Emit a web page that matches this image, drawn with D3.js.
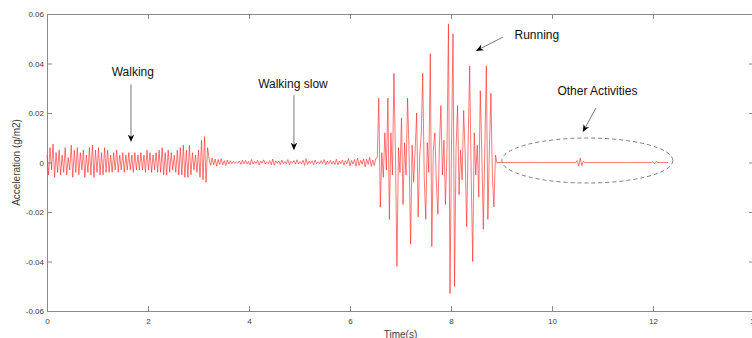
<!DOCTYPE html>
<html>
<head>
<meta charset="utf-8">
<script src="https://cdn.jsdelivr.net/npm/d3@7/dist/d3.min.js"></script>
<style>
  html, body { margin: 0; padding: 0; background: #fff; overflow: hidden; }
  svg { display: block; }
  text { font-family: "Liberation Sans", Arial, Helvetica, sans-serif; }
</style>
</head>
<body>
<svg id="chart" width="752" height="338"></svg>
<script>
// Accelerometer trace, values in 10^-3 g/m2, one sample every SAMPLE_DT seconds.
const SAMPLE_DT = 0.03;

const walking = [
  3, -5, 6, -3, 7.5, -6, 4, -4, 5, -5, 3, -4, 6, -5, 2, -3, 7, -6, 5, -4,
  6, -5, 4, -3, 5, -6, 3, -4, 6, -5, 7, -6, 5, -4, 6, -5, 4, -5, 6, -4,
  5, -4, 3, -4, 4, -3, 5, -4, 3, -3, 4, -4, 3, -3, 4, -3, 3, -4, 4, -3,
  3, -3, 4, -3, 3, -4, 5, -3, 4, -4, 3, -3, 4, -4, 5, -4, 6, -5, 4, -5,
  5, -4, 4, -3, 3, -4, 5, -5, 6, -5, 7, -6, 5, -6, 7, -5, 4, -3, 3, -4,
  5, -6, 9, -7, 10.5, -8, 6
];

const walkingSlow = [
  1.5, -1.2, 1.8, -1, 1.4, -1.5, 1.2, -0.8, 1.5, -1, 0.8, -1.2, 1, -0.6, 0.7, -0.5, 0.5, -0.4, 0.3, -0.3,
  0.6, -0.8, 1, -0.5, 0.8, -0.6, 0.4, -0.9, 1.2, -0.7, 0.5, -0.4, 0.9, -1, 0.6, -0.3, 1.1, -0.6, 0.3, -0.5,
  0.8, -0.9, 1.4, -1.1, 0.7, -0.4, 0.6, -0.8, 1, -0.5, 0.4, -0.6, 1.2, -0.9, 0.5, -0.3, 0.8, -0.7, 1.1, -0.6,
  0.4, -0.5, 0.9, -1.2, 1.5, -0.8, 0.6, -0.4, 0.7, -0.9, 1, -0.5, 0.3, -0.6, 0.8, -0.4, 1.2, -1, 0.6, -0.5,
  0.9, -0.7, 0.5, -0.8, 1.3, -0.9, 0.6, -0.4, 1, -1.1, 0.7, -0.5, 1.6, -1.4, 0.8, -0.6, 1.2, -1.5, 1.8, -1.2,
  0.9, -0.7, 1.5, -1.8, 1.3, -0.8, 2, -1.5, 1, -1.2, 1.6
];

const running = [
  2, 26, -18, 4, -6, 12, -3, 26, -23, 12,
  -5, 36, 3, -42, 6, -4, 18, -17, 8, -5,
  26, 4, -33, 7, -8, 5, 20, -22, 3, 11,
  36, -6, -23, 8, -4, 44, -34, 5, 12, -8,
  -21, 6, 23, -5, 9, -17, 4, 56, -53, 7,
  52, -50, 6, 23, -13, 5, -7, 21, 4, -26,
  8, 39, -6, -40, 12, -5, 7, -14, 29, 4,
  -27, 6, 39, -23, 5, 28, -6, -18, 3
];

const otherActivities = [
  0, 0, 0, 0, 0, 0, 0, 0, 0, 0, 0, 0, 0, 0, 0, 0, 0, 0, 0, 0,
  0, 0, 0, 0, 0, 0, 0, 0, 0, 0, 0, 0, 0, 0, 0, 0, 0, 0, 0, 0,
  0, 0, 0, 0, 0, 0, 0, 0, 0, 0, 0, 0, 0, 0.8, -1.5, 1.8, -1.2, 0.5, 0, 0,
  0, 0, 0, 0, 0, 0, 0, 0, 0, 0, 0, 0, 0, 0, 0, 0, 0, 0, 0, 0,
  0, 0, 0, 0, 0, 0, 0, 0, 0, 0, 0, 0, 0, 0, 0, 0, 0, 0, 0, 0,
  0, 0, 0, 0.3, -0.5, 0.4, 0, 0, 0, 0, 0, 0, 0, 0
];

const xTicks = [0, 2, 4, 6, 8, 10, 12, 14];
const yTicks = [-60, -40, -20, 0, 20, 40, 60];

// Text callouts: label anchor, arrow tail and arrow tip in data units (s, 10^-3 g/m2)
const calloutLabels = ["Walking", "Walking slow", "Running", "Other Activities"];
const calloutText   = [[1.70, 34.9], [4.87, 30.1], [9.70, 50.1], [10.90, 27.1]];
const calloutTail   = [[1.663, 31.6], [4.89, 27.2], [9.03, 50.7], [10.87, 22.0]];
const calloutTip    = [[1.663, 8.3], [4.89, 5.0], [8.495, 45.1], [10.61, 12.3]];
// Dashed ring around the low-activity stretch: centre and radii in data units
const ringCentre = [10.70, 0.8];
const ringRadii = [1.693, 9.09];

const svg = d3.select("#chart");
const x = d3.scaleLinear().domain([0, 14]).range([47, 754]);
const y = d3.scaleLinear().domain([-60, 60]).range([311, 14]);

const axisColor = "#8a8a8a";
const labelColor = "#3c3c3c";

// Frame with inward ticks on all four sides
function styleAxis(g) {
  g.select(".domain").attr("stroke", axisColor).attr("stroke-width", 1);
  g.selectAll(".tick line").attr("stroke", axisColor).attr("stroke-width", 1);
  g.selectAll(".tick text").attr("fill", labelColor).attr("font-size", 8)
    .attr("font-family", "'Liberation Sans', Arial, sans-serif");
}
const yFmt = d => d === 0 ? "0" : (d / 1000).toFixed(2);

svg.append("g").attr("transform", `translate(0,${y(-60)})`)
  .call(d3.axisBottom(x).tickValues(xTicks).tickSizeInner(-5).tickSizeOuter(0).tickPadding(7).tickFormat(d3.format("d")))
  .call(styleAxis);
svg.append("g").attr("transform", `translate(0,${y(60)})`)
  .call(d3.axisTop(x).tickValues(xTicks).tickSizeInner(-5).tickSizeOuter(0).tickFormat(""))
  .call(styleAxis);
svg.append("g").attr("transform", `translate(${x(0)},0)`)
  .call(d3.axisLeft(y).tickValues(yTicks).tickSizeInner(-5).tickSizeOuter(0).tickPadding(3).tickFormat(yFmt))
  .call(styleAxis);
svg.append("g").attr("transform", `translate(${x(14)},0)`)
  .call(d3.axisRight(y).tickValues(yTicks).tickSizeInner(-5).tickSizeOuter(0).tickFormat(""))
  .call(styleAxis);

// Axis titles
svg.append("text")
  .attr("x", (x(0) + x(14)) / 2).attr("y", 337.5)
  .attr("text-anchor", "middle").attr("font-size", 10).attr("fill", labelColor)
  .text("Time(s)");
svg.append("text")
  .attr("transform", `translate(19.5,${y(0)}) rotate(-90)`)
  .attr("text-anchor", "middle").attr("font-size", 10).attr("fill", labelColor)
  .text("Acceleration (g/m2)");

// Signal trace
const signal = [].concat(walking, walkingSlow, running, otherActivities)
  .map((v, i) => [i * SAMPLE_DT, v]);
svg.append("path")
  .datum(signal)
  .attr("fill", "none")
  .attr("stroke", "#ff2626")
  .attr("stroke-opacity", 0.9)
  .attr("stroke-width", 0.7)
  .attr("stroke-linejoin", "round")
  .attr("d", d3.line().x(d => x(d[0])).y(d => y(d[1])));

// Dashed ring
svg.append("ellipse")
  .attr("cx", x(ringCentre[0])).attr("cy", y(ringCentre[1]))
  .attr("rx", x(ringRadii[0]) - x(0)).attr("ry", y(0) - y(ringRadii[1]))
  .attr("fill", "none").attr("stroke", "#6e6e6e").attr("stroke-width", 0.9)
  .attr("stroke-dasharray", "4,3");

// Callouts
calloutLabels.forEach((label, i) => {
  svg.append("text")
    .attr("x", x(calloutText[i][0])).attr("y", y(calloutText[i][1]))
    .attr("text-anchor", "middle").attr("font-size", 12).attr("fill", "#111")
    .text(label);

  const x1 = x(calloutTail[i][0]), y1 = y(calloutTail[i][1]);
  const x2 = x(calloutTip[i][0]), y2 = y(calloutTip[i][1]);
  const len = Math.hypot(x2 - x1, y2 - y1);
  const ux = (x2 - x1) / len, uy = (y2 - y1) / len;
  const headLen = 7.5, headHalf = 3.2;
  const bx = x2 - ux * headLen, by = y2 - uy * headLen;
  svg.append("line")
    .attr("x1", x1).attr("y1", y1).attr("x2", bx + ux * 2).attr("y2", by + uy * 2)
    .attr("stroke", "#555").attr("stroke-width", 0.8);
  svg.append("path")
    .attr("d", `M${x2},${y2} L${bx - uy * headHalf},${by + ux * headHalf} L${bx + ux * 2.2},${by + uy * 2.2} L${bx + uy * headHalf},${by - ux * headHalf} Z`)
    .attr("fill", "#000");
});
</script>
</body>
</html>
